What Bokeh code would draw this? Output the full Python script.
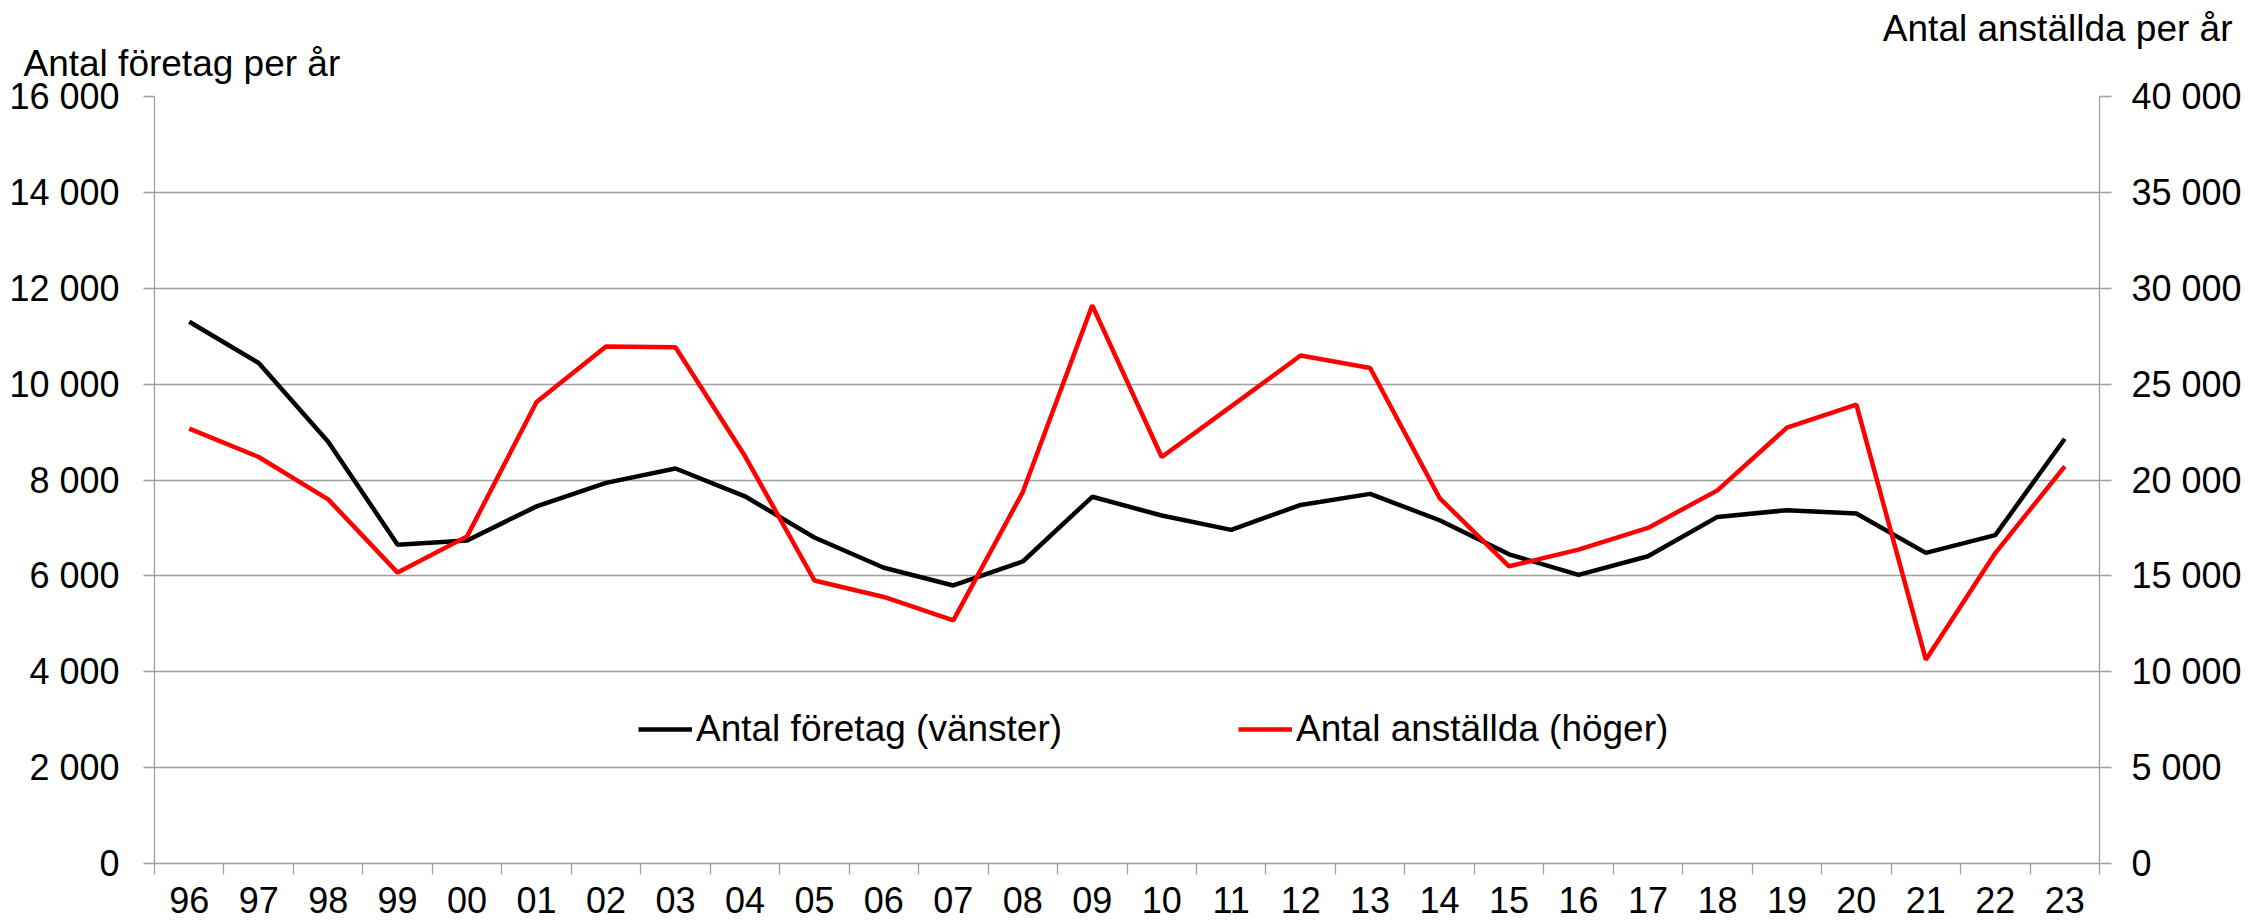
from bokeh.plotting import figure
from bokeh.models import (Range1d, LinearAxis, FixedTicker, Legend, LegendItem, Grid, Title)
from bokeh.embed import file_html
from bokeh.resources import INLINE

years = ["96", "97", "98", "99", "00", "01", "02", "03", "04", "05", "06", "07", "08", "09",
         "10", "11", "12", "13", "14", "15", "16", "17", "18", "19", "20", "21", "22", "23"]
foretag = [11300, 10440, 8800, 6650, 6740, 7450, 7940, 8240, 7660, 6800, 6170, 5800, 6300, 7650,
           7260, 6960, 7480, 7710, 7160, 6450, 6020, 6410, 7230, 7370, 7300, 6480, 6850, 8860]
anstallda = [22680, 21200, 18990, 15170, 17060, 24070, 26960, 26920, 21250, 14760, 13900, 12680, 19370, 29110,
             21200, 23840, 26490, 25840, 19060, 15500, 16370, 17500, 19460, 22730, 23930, 10630, 16190, 20710]
left_ticks = [0, 2000, 4000, 6000, 8000, 10000, 12000, 14000, 16000]
right_ticks = [0, 5000, 10000, 15000, 20000, 25000, 30000, 35000, 40000]
left_title = "Antal företag per år"
right_title = "Antal anställda per år"
series_names = ["Antal företag (vänster)", "Antal anställda (höger)"]

FONT = "Liberation Sans"
GRAY = "#a0a0a0"
FS = "36px"

n = len(years)
xs = [i + 0.5 for i in range(n)]


def fmt(v):
    return f"{v:,}".replace(",", " ")


p = figure(width=2254, height=924, output_backend="svg", toolbar_location=None,
           x_range=Range1d(0, n), y_range=Range1d(0, 16000),
           min_border_left=154, min_border_right=155, min_border_top=96, min_border_bottom=61,
           x_axis_type=None, y_axis_type=None)
p.outline_line_color = None
p.background_fill_color = "white"
p.border_fill_color = "white"
p.extra_y_ranges = {"right": Range1d(0, 40000)}

# bottom axis
xaxis = LinearAxis(ticker=FixedTicker(ticks=xs, minor_ticks=list(range(n + 1))))
xaxis.major_label_overrides = {x: y for x, y in zip(xs, years)}
xaxis.major_tick_out = 0
xaxis.major_tick_in = 0
xaxis.minor_tick_out = 11
xaxis.minor_tick_in = 0
xaxis.minor_tick_line_color = GRAY
xaxis.minor_tick_line_width = 1.3
xaxis.axis_line_color = GRAY
xaxis.axis_line_width = 1.3
xaxis.major_label_text_font = FONT
xaxis.major_label_text_font_size = FS
xaxis.major_label_text_color = "black"
xaxis.major_label_standoff = 12
p.add_layout(xaxis, "below")

# left axis
yaxis = LinearAxis(ticker=FixedTicker(ticks=left_ticks))
yaxis.major_label_overrides = {v: fmt(v) for v in left_ticks}
yaxis.major_tick_out = 11
yaxis.major_tick_in = 0
yaxis.minor_tick_out = 0
yaxis.minor_tick_in = 0
yaxis.major_tick_line_color = GRAY
yaxis.major_tick_line_width = 1.3
yaxis.axis_line_color = GRAY
yaxis.axis_line_width = 1.3
yaxis.major_label_text_font = FONT
yaxis.major_label_text_font_size = FS
yaxis.major_label_text_color = "black"
yaxis.major_label_standoff = 24
p.add_layout(yaxis, "left")

# right axis
raxis = LinearAxis(y_range_name="right", ticker=FixedTicker(ticks=right_ticks))
raxis.major_label_overrides = {v: fmt(v) for v in right_ticks}
raxis.major_tick_out = 12
raxis.major_tick_in = 0
raxis.minor_tick_out = 0
raxis.minor_tick_in = 0
raxis.major_tick_line_color = GRAY
raxis.major_tick_line_width = 1.3
raxis.axis_line_color = GRAY
raxis.axis_line_width = 1.3
raxis.major_label_text_font = FONT
raxis.major_label_text_font_size = FS
raxis.major_label_text_color = "black"
raxis.major_label_standoff = 20
p.add_layout(raxis, "right")

p.add_layout(Grid(dimension=1, ticker=yaxis.ticker, grid_line_color=GRAY, grid_line_width=1.3))

r1 = p.line(xs, foretag, line_color="black", line_width=4.5)
r2 = p.line(xs, anstallda, line_color="#ff0000", line_width=4.5, y_range_name="right")

legend = Legend(items=[LegendItem(label=series_names[0], renderers=[r1]),
                       LegendItem(label=series_names[1], renderers=[r2])],
                location=(484, 113), orientation="horizontal")
legend.label_text_font = FONT
legend.label_text_font_size = "37px"
legend.label_text_color = "black"
legend.glyph_width = 54
legend.label_standoff = 4
legend.spacing = 176
legend.padding = 0
legend.margin = 0
legend.border_line_alpha = 0
legend.background_fill_alpha = 0
p.add_layout(legend, "center")

# axis titles in the top panel
tL = Title(text=left_title, align="left", offset=-131, standoff=25,
           text_font=FONT, text_font_size="37px", text_font_style="normal", text_color="black")
tR = Title(text=right_title, align="right", offset=-133, standoff=-41,
           text_font=FONT, text_font_size="37px", text_font_style="normal", text_color="black")
p.add_layout(tL, "above")
p.add_layout(tR, "above")

open("out.html", "w").write(file_html(p, INLINE))
